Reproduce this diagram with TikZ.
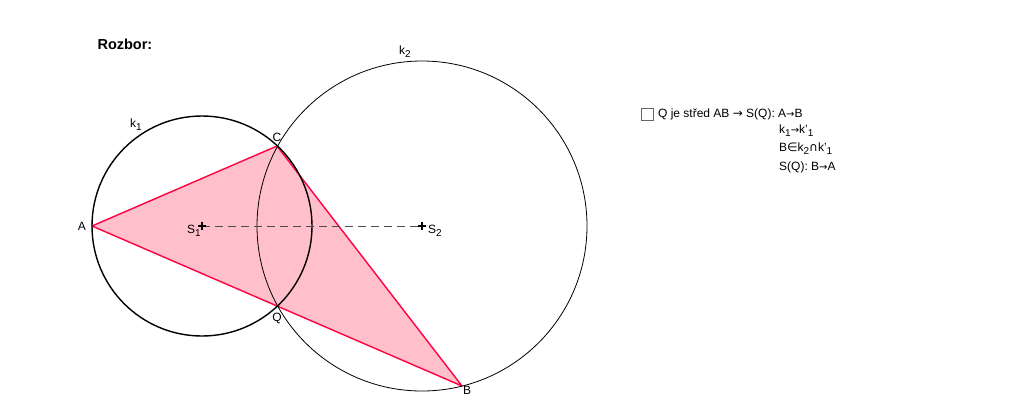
\documentclass[tikz,border=0pt]{standalone}
\usepackage{fontspec}
\setmainfont{Liberation Sans}
\newfontfamily\symfont{DejaVu Sans}
\usepackage{tikz}
\usetikzlibrary{positioning}
\definecolor{trifill}{RGB}{255,192,203}
\definecolor{triedge}{RGB}{255,0,64}
\newcommand{\sbs}[1]{\raisebox{-0.45ex}{\fontsize{10}{10}\selectfont #1}}
\newcommand{\ar}{{\symfont\fontsize{10}{10}\selectfont→}}

\begin{document}
\begin{tikzpicture}[x=1pt,y=-1pt,
  lbl/.style={font=\fontsize{12}{14}\selectfont, inner sep=1pt},
  edge/.style={draw=triedge, line width=1.4pt, line join=round}]
\useasboundingbox (0,0) rectangle (1024,400);
\coordinate (S1) at (202,226);
\coordinate (S2) at (422,226);
\coordinate (A) at (92,226);
\coordinate (B) at (462,386);
\coordinate (C) at (277,146);
\coordinate (Q) at (277,306);
% triangle
\fill[trifill] (A) -- (C) -- (B) -- cycle;
\draw[edge] (A) -- (C) -- (B) -- cycle;
% circles
\draw[line width=1.4pt] (S1) circle[radius=110pt];
\draw[line width=0.8pt] (S2) circle[radius=165pt];
\draw[dash pattern=on 8pt off 5pt, black!70, line width=1pt] (S1) -- (S2);
\foreach \p in {S1,S2} {
\draw[line width=1.2pt] (\p) ++(-4,0) -- ++(8,0) (\p) ++(0,-4) -- ++(0,8);
}
% labels
\node[lbl, left=5pt of A] (lA) {A};
\node[lbl, above=3pt of C] (lC) {C};
\node[lbl, below=6pt of Q] (lQ) {Q};
\node[lbl, below right=-1pt and 0pt of B] (lB) {B};
\node[lbl, below left=-2pt and 0pt of S1] (lS1) {S\sbs{1}};
\node[lbl, below right=-2pt and 5pt of S2] (lS2) {S\sbs{2}};
\node[lbl] (lk1) at (136,125) {k\sbs{1}};
\node[lbl] (lk2) at (405,52) {k\sbs{2}};
\node[anchor=west, font=\fontsize{14.5}{16}\selectfont\bfseries] (title) at (94,44) {Rozbor:};
% steps
\node[draw=black!60, line width=0.8pt, minimum size=12pt, inner sep=0pt] (box) at (647.5,114.5) {};
\node[lbl, right=3pt of box] (t1) {Q je střed AB {\symfont→} S(Q): A\ar B};
\node[lbl, anchor=west] (t2) at (778,131) {k\sbs{1}\ar k’\sbs{1}};
\node[lbl, anchor=west] (t3) at (778,149) {B{\symfont∈}k\sbs{2}{\symfont∩}k’\sbs{1}};
\node[lbl, anchor=west] (t4) at (778,167) {S(Q): B\ar A};
\end{tikzpicture}
\end{document}
